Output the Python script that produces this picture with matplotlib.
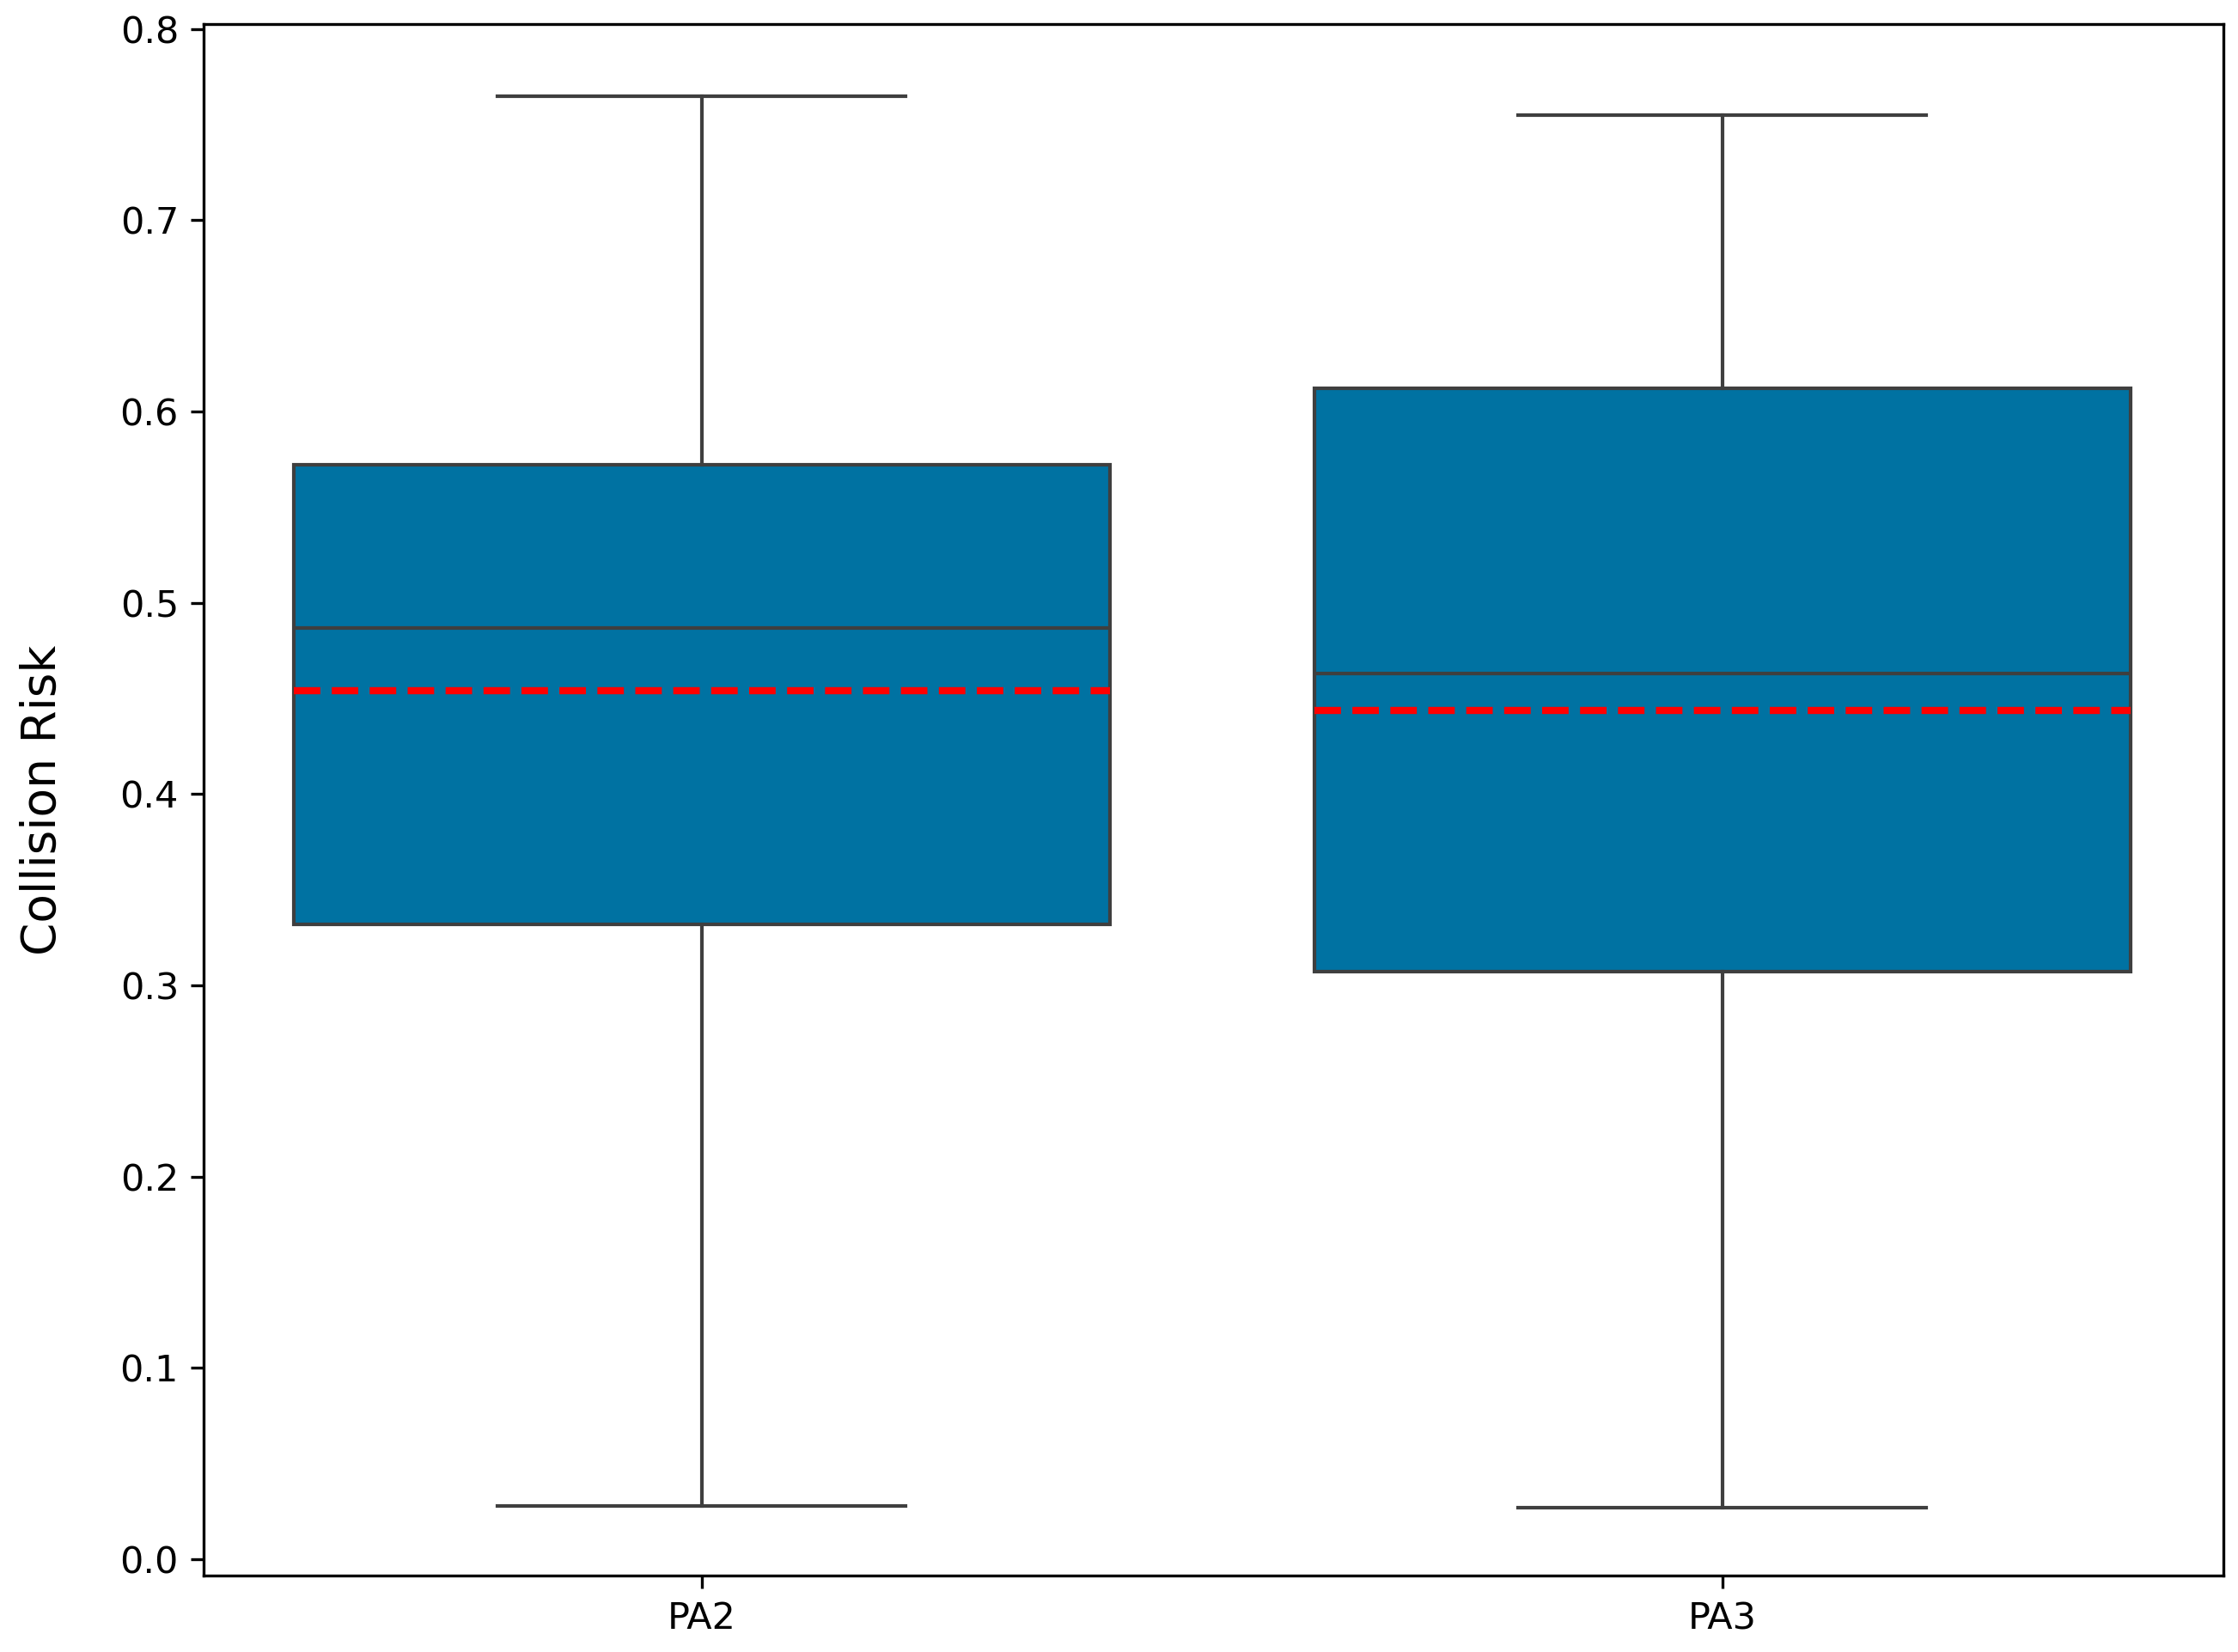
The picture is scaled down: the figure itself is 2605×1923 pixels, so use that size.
import matplotlib
matplotlib.use("Agg")
import matplotlib.pyplot as plt

# box statistics
groups = ["PA2", "PA3"]
whisker_low = [0.028, 0.027]
q1 = [0.332, 0.307]
medians = [0.487, 0.463]
q3 = [0.572, 0.612]
whisker_high = [0.765, 0.755]
means = [0.454, 0.4435]

stats = []
for i in range(len(groups)):
    stats.append({"label": groups[i], "whislo": whisker_low[i], "q1": q1[i],
                  "med": medians[i], "q3": q3[i], "whishi": whisker_high[i],
                  "fliers": []})

dpi = 300
fig = plt.figure(figsize=(2605 / dpi, 1923 / dpi), dpi=dpi)
ax = fig.add_axes([0.091, 0.0463, 0.9025, 0.9391])

line_c = "#3f3f3f"
pos = list(range(len(groups)))
ax.bxp(stats, positions=pos, widths=0.8, patch_artist=True, showfliers=False,
       boxprops=dict(facecolor="#0072a2", edgecolor=line_c, linewidth=1.0),
       whiskerprops=dict(color=line_c, linewidth=1.0),
       capprops=dict(color=line_c, linewidth=1.0),
       medianprops=dict(color=line_c, linewidth=1.0))

# dashed red line for the mean of each group
for p, m in zip(pos, means):
    ax.hlines(m, p - 0.4, p + 0.4, colors="red", linestyles="--", linewidth=2, zorder=5)

ax.set_xlim(-0.488, 1.491)
ax.set_ylim(-0.0085, 0.8025)
ax.set_xticks(pos)
ax.set_xticklabels(groups)
ax.tick_params(labelsize=10.3)
ax.set_ylabel("Collision Risk", fontsize=13.2, labelpad=15)

fig.savefig("out.png", dpi=dpi)
